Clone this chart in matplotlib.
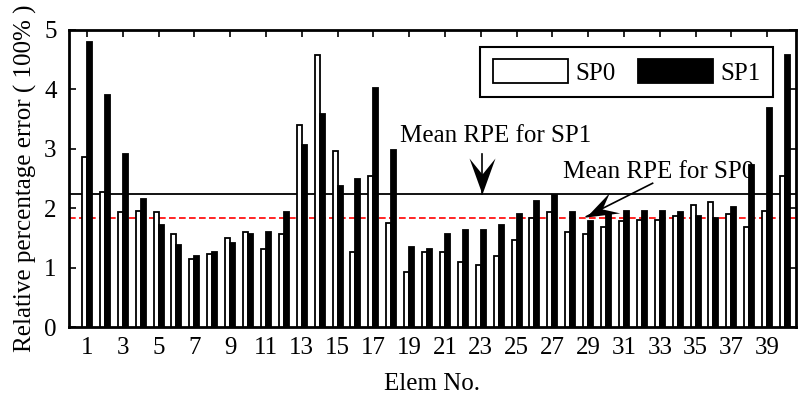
import numpy as np
import matplotlib
matplotlib.use('Agg')
import matplotlib.pyplot as plt
from matplotlib.path import Path

plt.rcParams['font.family'] = ['Liberation Serif', 'DejaVu Serif']
plt.rcParams['font.size'] = 18

# relative percentage error per element
elem = np.arange(1, 41)
sp0 = [2.86, 2.27, 1.93, 1.96, 1.93, 1.56, 1.14, 1.23, 1.50, 1.60,
       1.32, 1.56, 3.40, 4.57, 2.97, 1.26, 2.55, 1.75, 0.92, 1.26,
       1.26, 1.10, 1.04, 1.20, 1.47, 1.84, 1.93, 1.60, 1.56, 1.69,
       1.78, 1.81, 1.81, 1.87, 2.06, 2.11, 1.91, 1.69, 1.96, 2.55]
sp1 = [4.79, 3.90, 2.92, 2.15, 1.72, 1.38, 1.20, 1.26, 1.42, 1.57,
       1.60, 1.93, 3.06, 3.59, 2.37, 2.49, 4.03, 2.98, 1.35, 1.32,
       1.57, 1.63, 1.63, 1.72, 1.91, 2.12, 2.22, 1.93, 1.78, 1.91,
       1.96, 1.96, 1.96, 1.93, 1.87, 1.84, 2.02, 2.73, 3.69, 4.58]
mean_sp1 = 2.24
mean_sp0 = 1.83
xticks = np.arange(1, 40, 2)

DPI = 100
fig = plt.figure(figsize=(7.99, 3.98), dpi=DPI)
ax = fig.add_axes([0.0864, 0.178, 0.9096, 0.747])

w = 0.28
ax.bar(elem - w/2, sp0, width=w, color='white', edgecolor='black', linewidth=1.3, label='SP0', zorder=3)
ax.bar(elem + w/2, sp1, width=w, color='black', edgecolor='black', linewidth=1.3, label='SP1', zorder=3)

ax.axhline(mean_sp1, color='black', linewidth=1.3, zorder=2)
ax.axhline(mean_sp0, color='red', linewidth=1.2, linestyle=(0, (4, 2)), zorder=2)

ax.set_xlim(0, 40.6)
ax.set_ylim(0, 5)


def notched_arrow(tail, tip, L=36, W=26, N=16):
    # shaft plus a concave (notched) filled head, sizes in pixels
    ax.plot([tail[0], tip[0]], [tail[1], tip[1]], color='black', lw=1.2, zorder=5)
    p0 = ax.transData.transform(tail)
    p1 = ax.transData.transform(tip)
    a = np.arctan2(p1[1] - p0[1], p1[0] - p0[0])
    v = np.array([[0, 0], [-L, W/2], [-L + N, 0], [-L, -W/2], [0, 0]], float)
    rot = np.array([[np.cos(a), -np.sin(a)], [np.sin(a), np.cos(a)]])
    v = v @ rot.T
    codes = [Path.MOVETO, Path.LINETO, Path.LINETO, Path.LINETO, Path.CLOSEPOLY]
    r = np.abs(v).max()
    ax.plot([tip[0]], [tip[1]], marker=Path(v, codes), markersize=2 * r * 72 / DPI,
            color='black', markeredgewidth=0, zorder=6)


# SP1 label and arrow
ax.text(23.85, 3.11, 'Mean RPE for SP1', ha='center', va='baseline', fontsize=18)
notched_arrow((23.05, 2.92), (23.05, mean_sp1))
# SP0 label and arrow
ax.text(32.95, 2.51, 'Mean RPE for SP0', ha='center', va='baseline', fontsize=18)
notched_arrow((32.6, 2.42), (28.9, 1.86), L=32, W=23, N=14)

ax.set_xticks(xticks)
ax.set_yticks(range(0, 6))
ax.tick_params(direction='in', top=True, right=True, length=5, width=1.2, labelsize=18)
ax.tick_params(axis='x', pad=7)
ax.tick_params(axis='y', pad=9)
for s in ax.spines.values():
    s.set_linewidth(2)

ax.set_xlabel('Elem No.', fontsize=18, labelpad=10)
ax.set_ylabel('Relative percentage error ( 100% )', fontsize=18, labelpad=5)

leg = ax.legend(loc='upper right', bbox_to_anchor=(0.969, 0.943), ncol=2, fontsize=18,
                handlelength=3.0, handleheight=1.1, handletextpad=0.3,
                columnspacing=0.9, fancybox=False, framealpha=1,
                edgecolor='black', borderpad=0.5, borderaxespad=0)
leg.get_frame().set_linewidth(1.5)

fig.savefig('out.png', dpi=DPI)
